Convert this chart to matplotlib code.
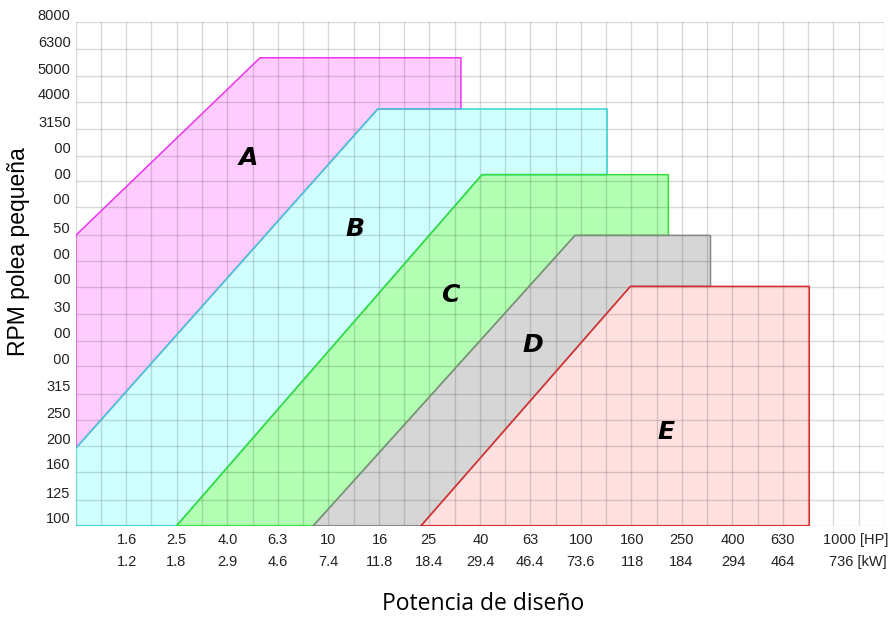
import numpy as np
import matplotlib.pyplot as plt
from matplotlib.transforms import offset_copy
from matplotlib.patches import Rectangle

# potencia de diseño (HP) y equivalente en kW
hp_ticks = [1.6, 2.5, 4.0, 6.3, 10, 16, 25, 40, 63, 100, 160, 250, 400, 630, 1000]
hp_labels = ['1.6', '2.5', '4.0', '6.3', '10', '16', '25', '40', '63', '100',
             '160', '250', '400', '630', '1000 [HP]']
kw_labels = ['1.2', '1.8', '2.9', '4.6', '7.4', '11.8', '18.4', '29.4', '46.4',
             '73.6', '118', '184', '294', '464', '736 [kW]']

# rpm polea pequeña
rpm_ticks = [100, 125, 160, 200, 250, 315, 400, 500, 630, 800, 1000, 1250,
             1600, 2000, 2500, 3150, 4000, 5000, 6300, 8000]

# zonas de cada sección de correa (HP, RPM)
A_hp = [1.0, 5.37, 33.5, 33.5, 15.7, 1.0]
A_rpm = [1250, 5860, 5860, 3755, 3755, 196]
B_hp = [1.0, 15.7, 127, 127, 40.6, 2.51, 1.0]
B_rpm = [196, 3755, 3755, 2120, 2120, 100, 100]
C_hp = [2.51, 40.6, 222, 222, 94.8, 8.72]
C_rpm = [100, 2120, 2120, 1250, 1250, 100]
D_hp = [8.72, 94.8, 326, 326, 157, 23.3]
D_rpm = [100, 1250, 1250, 802, 802, 100]
E_hp = [23.3, 157, 802, 802]
E_rpm = [100, 802, 802, 100]

sections = ['A', 'B', 'C', 'D', 'E']
label_hp = [4.81, 12.8, 30.3, 64.5, 217]
label_rpm = [2440, 1316, 742, 480, 226]

fills = ['#ffccff', '#d0ffff', '#b3ffb3', '#d6d6d6', '#ffe0e0']
edges = ['#ee33ee', '#33d6d0', '#33dd33', '#888888', '#dd2a2a']

fig = plt.figure(figsize=(8.88, 6.19), dpi=100)
ax = fig.add_axes([75.7 / 888, 93.3 / 619, 808.3 / 888, 503.7 / 619])
ax.set_xscale('log')
ax.set_yscale('log')
ax.set_xlim(1, 10 ** 3.2)
ax.set_ylim(100, 8000)

polys = [(A_hp, A_rpm), (B_hp, B_rpm), (C_hp, C_rpm), (D_hp, D_rpm), (E_hp, E_rpm)]
for (xs, ys), fc in zip(polys, fills):
    ax.fill(xs, ys, facecolor=fc, edgecolor='none', zorder=1)
for (xs, ys), ec in zip(polys, edges):
    ax.plot(xs + xs[:1], ys + ys[:1], color=ec, lw=1.1, zorder=3)

for s, x, y in zip(sections, label_hp, label_rpm):
    ax.text(x, y, s, fontsize=18, fontweight='heavy', fontstyle='italic',
            family='DejaVu Sans', ha='center', va='center', zorder=4)

# rejilla: serie R10 en ambos ejes
ax.set_xticks(10 ** (np.arange(33) / 10))
ax.set_yticks(rpm_ticks)
ax.xaxis.set_minor_locator(plt.NullLocator())
ax.yaxis.set_minor_locator(plt.NullLocator())
ax.tick_params(length=0, labelbottom=False, labelleft=False)
ax.set_axisbelow(False)
ax.grid(True, color='black', alpha=0.15, lw=1.0)
for sp in ax.spines.values():
    sp.set_visible(False)

tick_font = dict(family='Liberation Sans', fontsize=10.5, color='#222222')
xt = ax.get_xaxis_transform()
for hp, hl, kl in zip(hp_ticks, hp_labels, kw_labels):
    if '[' in hl:
        ax.text(hp, 0, hl, ha='right', va='center', **tick_font,
                transform=offset_copy(xt, fig=fig, x=55, y=-14, units='dots'))
        ax.text(hp, 0, kl, ha='right', va='center', **tick_font,
                transform=offset_copy(xt, fig=fig, x=53, y=-36, units='dots'))
    else:
        ax.text(hp, 0, hl, ha='center', va='center', **tick_font,
                transform=offset_copy(xt, fig=fig, x=0, y=-14, units='dots'))
        ax.text(hp, 0, kl, ha='center', va='center', **tick_font,
                transform=offset_copy(xt, fig=fig, x=0, y=-36, units='dots'))

yt = ax.get_yaxis_transform()
for r in rpm_ticks:
    ax.text(0, r, str(r), ha='right', va='center', **tick_font,
            transform=offset_copy(yt, fig=fig, x=-5, y=6.5, units='dots'))

# recuadro blanco del título del eje y (tapa parte de las etiquetas)
fig.patches.append(Rectangle((0, 1 - 372 / 619), 54 / 888, 236 / 619,
                             transform=fig.transFigure, facecolor='white',
                             edgecolor='none', zorder=5))
fig.text(19 / 888, 1 - 251.5 / 619, 'RPM polea pequeña', rotation=90,
         ha='center', va='center', fontsize=16.5, family='Liberation Sans', zorder=6)
fig.text(483 / 888, 1 - 604 / 619, 'Potencia de diseño', ha='center', va='center',
         fontsize=16.5, family='Open Sans')

fig.savefig('out.png', dpi=100)
